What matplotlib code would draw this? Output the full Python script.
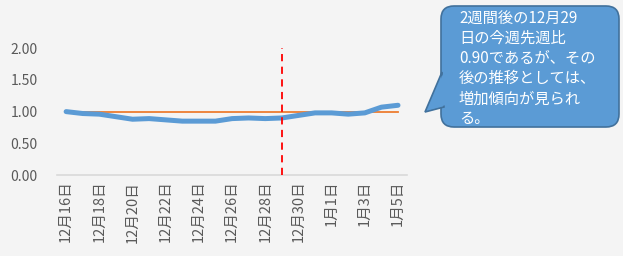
import matplotlib.pyplot as plt
from matplotlib.patches import FancyBboxPatch, Polygon

plt.rcParams['font.family'] = ['Noto Sans CJK JP', 'DejaVu Sans']

# data
dates = ['12月16日', '12月17日', '12月18日', '12月19日', '12月20日', '12月21日',
         '12月22日', '12月23日', '12月24日', '12月25日', '12月26日', '12月27日',
         '12月28日', '12月29日', '12月30日', '12月31日', '1月1日', '1月2日',
         '1月3日', '1月4日', '1月5日']
ratio = [1.00, 0.97, 0.96, 0.92, 0.88, 0.89, 0.87, 0.85, 0.85, 0.85, 0.89,
         0.90, 0.89, 0.90, 0.94, 0.98, 0.98, 0.96, 0.98, 1.07, 1.10]
baseline = [1.00] * len(dates)
marker_date = '12月29日'
note_lines = ['2週間後の12月29', '日の今週先週比', '0.90であるが、その',
              '後の推移としては、', '増加傾向が見られ', 'る。']

bg = '#f4f4f4'
fig = plt.figure(figsize=(6.23, 2.56), dpi=100)
fig.patch.set_facecolor(bg)
ax = fig.add_axes([0.0915, 0.316, 0.562, 0.496])
ax.set_facecolor(bg)

x = list(range(len(dates)))
ax.plot(x, baseline, color='#ed7d31', lw=1.3, zorder=2)
ax.plot(x, ratio, color='#5b9bd5', lw=3.6, solid_capstyle='round', zorder=3)
mx = dates.index(marker_date)
ax.plot([mx, mx], [0, 2.0], color='#ff0000', lw=1.3, ls=(0, (4, 3)), zorder=4)

ax.set_xlim(-0.55, len(dates) - 0.45)
ax.set_ylim(0, 2.0)
ax.set_yticks([0, 0.5, 1.0, 1.5, 2.0])
ax.set_yticklabels(['%.2f' % v for v in [0, 0.5, 1.0, 1.5, 2.0]],
                   fontsize=10, color='#595959')
ax.set_xticks(x[::2])
ax.set_xticklabels(dates[::2], rotation=90, fontsize=10.5, color='#595959')
ax.tick_params(axis='y', length=0, pad=14)
ax.tick_params(axis='x', length=0, pad=4)
for s in ['top', 'right', 'left']:
    ax.spines[s].set_visible(False)
ax.spines['bottom'].set_color('#d9d9d9')
ax.spines['bottom'].set_linewidth(1.2)

# callout drawn on an overlay in pixel units
ov = fig.add_axes([0, 0, 1, 1])
ov.set_xlim(0, 623)
ov.set_ylim(256, 0)
ov.axis('off')
fill, edge = '#5b9bd5', '#41719c'
ov.add_patch(FancyBboxPatch((441, 6), 178, 121,
                            boxstyle='round,pad=0,rounding_size=13',
                            facecolor=fill, edgecolor=edge, lw=1.2))
ov.add_patch(Polygon([(442, 72), (425, 112), (444, 107)], closed=True,
                     facecolor=fill, edgecolor=edge, lw=1.2))
ov.add_patch(Polygon([(443, 74), (428, 110), (446, 105), (450, 74)], closed=True,
                     facecolor=fill, edgecolor='none'))

for i, line in enumerate(note_lines):
    ov.text(459, 18 + i * 20.2, line, color='white', fontsize=11,
            va='center', ha='left')

fig.savefig('out.png', dpi=100, facecolor=fig.get_facecolor())
